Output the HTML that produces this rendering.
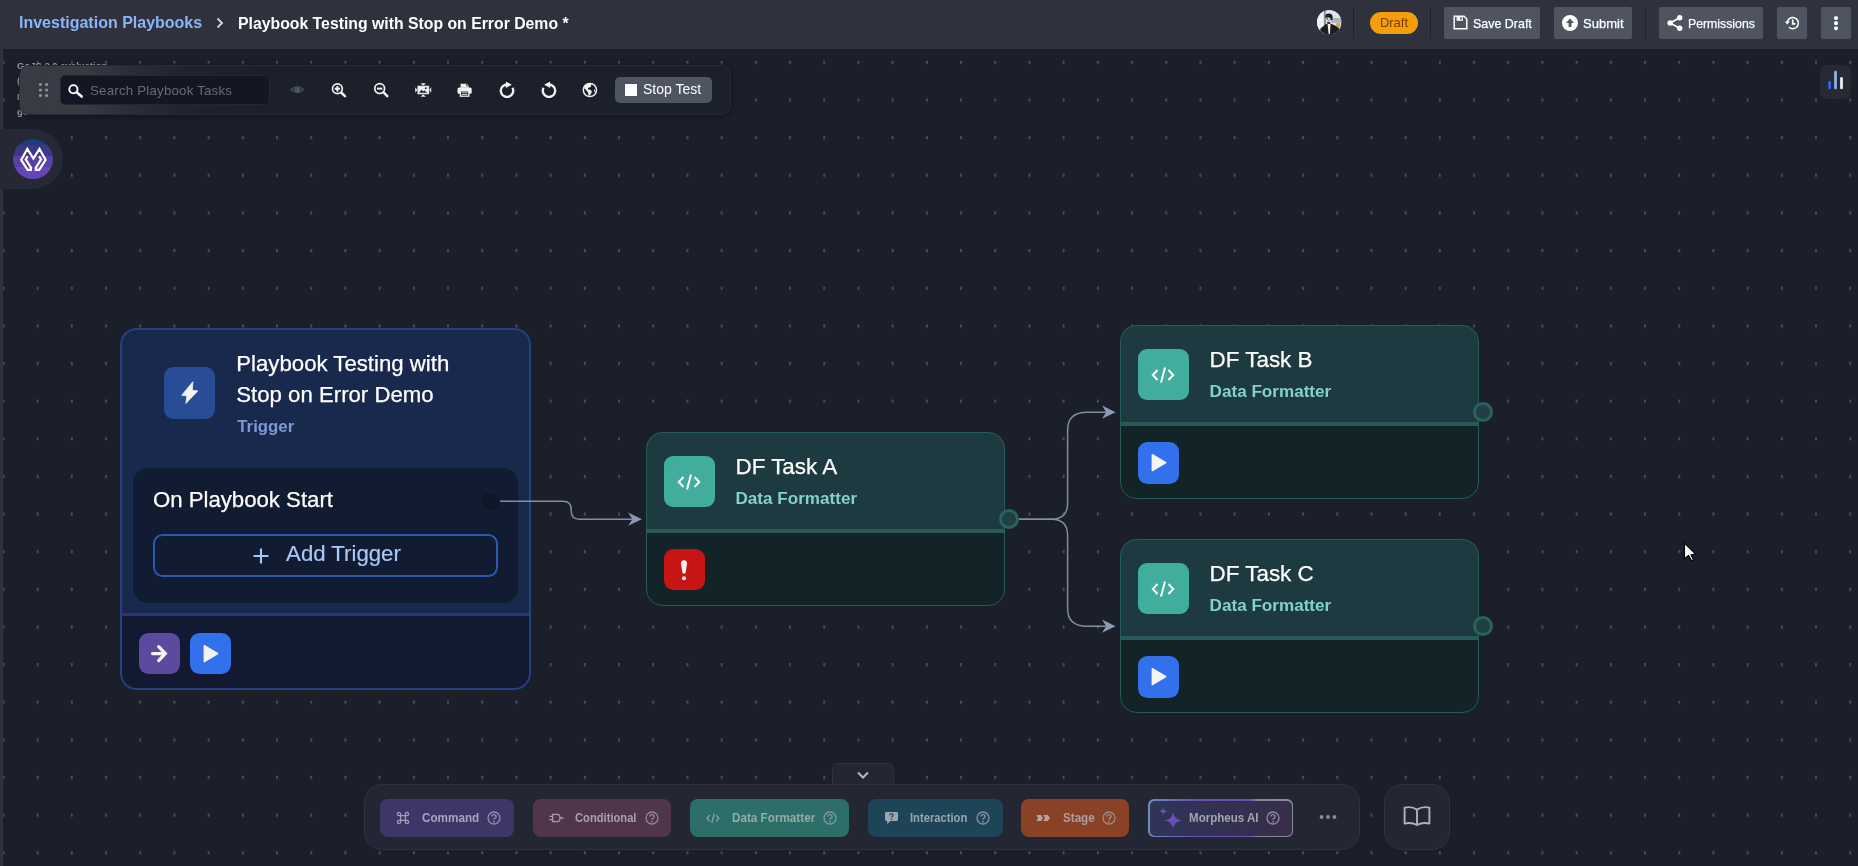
<!DOCTYPE html>
<html><head><meta charset="utf-8">
<style>
*{box-sizing:border-box;margin:0;padding:0}
html,body{width:1858px;height:866px;overflow:hidden;background:#1b1f2a;font-family:"Liberation Sans",sans-serif;color:#fff}
.abs{position:absolute}
#hdr{position:absolute;left:0;top:0;width:1858px;height:49px;background:#2f323d}
#lstrip{position:absolute;left:0;top:0;width:3px;height:866px;background:#2f323d}
#grid{position:absolute;left:0;top:0;width:1858px;height:866px}
.bc1{position:absolute;left:19px;top:14px;font-size:16px;font-weight:bold;color:#8ab4f8;white-space:nowrap}
.bc2{position:absolute;left:238px;top:15px;font-size:15.8px;font-weight:bold;color:#fff;white-space:nowrap}
.hbtn{position:absolute;top:7px;height:32px;background:#4f5560;border-radius:2px;color:#fff;font-size:12.4px;white-space:nowrap}
.hbtn span{position:absolute;top:8.5px;font-size:13.4px;transform-origin:0 50%;-webkit-text-stroke:0.25px #fff}
.vsep{position:absolute;top:7px;width:1px;height:32px;background:#1f222c}
.node{position:absolute;border-radius:16.5px;overflow:hidden}
.node::after{content:"";position:absolute;left:0;top:0;right:0;bottom:0;border-radius:16.5px;border:1.900px solid #295c59}
.trg::after{border-color:#25427f;border-width:2px}
.df{background:#1e3a41;width:359.4px;height:174.300px}
.df .foot{position:absolute;left:0;right:0;top:96.6px;bottom:0;background:#132429;border-top:4px solid #285b58}
.df .ico{position:absolute;left:18.3px;top:23.8px;width:51.3px;height:51.3px;border-radius:9px;background:#41ad9d}
.df .t1{position:absolute;left:90px;top:22px;font-size:22.4px;color:#fff;white-space:nowrap;-webkit-text-stroke:0.25px #fff}
.df .t2{position:absolute;left:90px;top:56.6px;font-size:17.100px;font-weight:bold;color:#84d1c5;white-space:nowrap}
.sq{position:absolute;width:41.1px;height:41.5px;border-radius:9.5px}
.port{position:absolute;width:20.2px;height:20.2px;border-radius:50%;border:3px solid #2a625d;background:#1f3f45}
.pal{position:absolute;top:799px;height:38px;border-radius:8px;font-size:13px;font-weight:bold;white-space:nowrap}
.pal span{position:absolute;top:10.5px;transform-origin:0 50%}
</style></head><body><div id="root" style="position:absolute;left:0;top:0;width:1858px;height:866px;will-change:transform">
<svg id="grid" width="1858" height="866">
<defs><pattern id="dots" x="2.5" y="60.8" width="34.2" height="37.64" patternUnits="userSpaceOnUse"><rect x="0" y="0" width="1.8" height="3.2" fill="#505050"/></pattern></defs>
<rect x="0" y="0" width="1858" height="866" fill="url(#dots)"/>
</svg>
<div id="lstrip"></div>
<div id="hdr"></div>
<div class="bc1">Investigation Playbooks</div>
<div class="bc2">Playbook Testing with Stop on Error Demo *</div>


<div class="abs" style="left:214px;top:16px;width:12px;height:14px"><svg width="12" height="14" viewBox="0 0 12 14"><path d="M3.5 2.5 L8 7 L3.5 11.5" fill="none" stroke="#d6d8dd" stroke-width="1.8"/></svg></div>
<!-- avatar -->
<svg class="abs" style="left:1317px;top:9.800px" width="24.500" height="24.500" viewBox="0 0 24.500 24.500"><defs><clipPath id="avc"><circle cx="12.250" cy="12.250" r="12.250"/></clipPath></defs><g clip-path="url(#avc)"><rect width="24.500" height="24.500" fill="#e2e4e9"/><rect x="0" y="0" width="7" height="24.500" fill="#eff0f2"/><rect x="6.900" y="0" width="1.900" height="17" fill="#8c9199"/><rect x="7.600" y="4" width="0.900" height="11" fill="#9a7b66"/><rect x="14.500" y="8" width="10" height="4.800" fill="#aeb4bd"/><rect x="19.200" y="13.200" width="4" height="4.200" fill="#d9a441"/><path d="M2.500 24.500 L3.500 18.500 L8.500 14.600 L10.600 13.500 H13.600 L18 15.400 L22.300 18.600 L22.800 24.500 Z" fill="#1b1d25"/><path d="M10.500 13.500 H13.500 L12.900 24.500 H11.700 Z" fill="#f4f5f7"/><ellipse cx="11.900" cy="6.800" rx="3.500" ry="3.200" fill="#14171c"/><rect x="13.600" y="6" width="1.800" height="4.200" rx="0.800" fill="#14171c"/><ellipse cx="11" cy="9.100" rx="2.500" ry="3.400" fill="#c5cdd8"/><path d="M8.800 6.500 Q11.500 4.800 14 6.600 L13.500 7.800 Q11 6.600 8.800 8 Z" fill="#14171c"/><circle cx="10.400" cy="8.800" r="0.650" fill="#15171c"/><circle cx="12.100" cy="10.600" r="0.700" fill="#c96a3a"/><rect x="10.300" y="12" width="2.800" height="1.800" fill="#23252c"/></g></svg>
<div class="vsep" style="left:1353px"></div>
<div class="abs" style="left:1370px;top:12px;width:48px;height:22px;border-radius:11px;background:#f59e0b;color:#7a3c0c;font-size:13px;text-align:center;line-height:22px">Draft</div>
<div class="vsep" style="left:1430px"></div>
<div class="hbtn" style="left:1444px;width:96px"><svg class="abs" style="left:9px;top:8px" width="15" height="15" viewBox="0 0 15 15"><path d="M1.2 1.2 H11 L13.8 4 V13.8 H1.2 Z" fill="none" stroke="#fff" stroke-width="1.5"/><rect x="3.6" y="1.5" width="6.2" height="4.3" fill="#fff"/><rect x="7.2" y="2.2" width="1.4" height="2.6" fill="#4f5560"/></svg><span style="left:29px;transform:scaleX(.93)">Save Draft</span></div>
<div class="hbtn" style="left:1554px;width:78px"><svg class="abs" style="left:8px;top:8px" width="16" height="16" viewBox="0 0 16 16"><circle cx="8" cy="8" r="8" fill="#fff"/><path d="M8 3.6 L12 8 H9.4 V12 H6.6 V8 H4 Z" fill="#4f5560"/></svg><span style="left:29px;transform:scaleX(.973)">Submit</span></div>
<div class="vsep" style="left:1645px"></div>
<div class="hbtn" style="left:1659px;width:104px"><svg class="abs" style="left:8px;top:8px" width="16" height="16" viewBox="0 0 16 16"><path d="M12.700 2.800 L3.100 8 L12.700 13.200" fill="none" stroke="#fff" stroke-width="1.700"/><circle cx="12.700" cy="2.800" r="2.700" fill="#fff"/><circle cx="3.100" cy="8" r="2.700" fill="#fff"/><circle cx="12.700" cy="13.200" r="2.700" fill="#fff"/></svg><span style="left:29px;transform:scaleX(.917)">Permissions</span></div>
<div class="hbtn" style="left:1777px;width:30px"><svg class="abs" style="left:7px;top:8px" width="16" height="16" viewBox="0 0 16 16"><path d="M3.2 8 A5.6 5.6 0 1 1 5 12.2" fill="none" stroke="#fff" stroke-width="1.5"/><path d="M0.8 6.6 L3.2 9.4 L5.8 6.6 Z" fill="#fff"/><path d="M8.700 4.600 V8.800 H11.400" fill="none" stroke="#fff" stroke-width="1.700"/></svg></div>
<div class="hbtn" style="left:1821px;width:30px"><svg class="abs" style="left:12px;top:7px" width="6" height="18" viewBox="0 0 6 18"><rect x="1.100" y="2.200" width="3.800" height="3.800" rx="1.400" fill="#fff"/><rect x="1.100" y="7.300" width="3.800" height="3.800" rx="1.400" fill="#fff"/><rect x="1.100" y="12.400" width="3.800" height="3.800" rx="1.400" fill="#fff"/></svg></div>


<!-- watermark text -->
<div class="abs" style="left:17px;top:58px;font-size:9.500px;color:#9a9ca3;line-height:15.300px;white-space:nowrap;font-weight:bold">GoJS 2.0 evaluation<br>(c<br>N<br>go</div>
<!-- toolbar -->
<div class="abs" style="left:19px;top:65px;width:712px;height:50px;border-radius:10px;background:linear-gradient(90deg,#383b45 0px,#3a3a42 60px,#2c2f3a 105px,#20232e 165px,#1c202b 240px);border:1px solid #262a36;box-shadow:0 2px 6px rgba(0,0,0,.35)"></div>
<svg class="abs" style="left:38px;top:82px" width="12" height="16" viewBox="0 0 12 16"><g fill="#8d909a"><circle cx="2.4" cy="2.5" r="1.6"/><circle cx="8.6" cy="2.5" r="1.6"/><circle cx="2.4" cy="8" r="1.6"/><circle cx="8.6" cy="8" r="1.6"/><circle cx="2.4" cy="13.5" r="1.6"/><circle cx="8.6" cy="13.5" r="1.6"/></g></svg>
<div class="abs" style="left:60px;top:74.500px;width:210px;height:30.500px;border-radius:5px;background:#131623;border:1px solid #232634"></div>
<svg class="abs" style="left:67px;top:82px" width="18" height="18" viewBox="0 0 18 18"><circle cx="6.400" cy="7.200" r="4.100" fill="none" stroke="#fff" stroke-width="1.900"/><path d="M9.600 10.300 L14.700 14.500" stroke="#fff" stroke-width="2.600" stroke-linecap="round"/></svg>
<div class="abs" style="left:90px;top:83px;font-size:13.3px;color:#676b78;white-space:nowrap;letter-spacing:.2px">Search Playbook Tasks</div>
<!-- eye -->
<svg class="abs" style="left:289.6px;top:85.4px" width="14.4" height="9.4" viewBox="0 0 16 12" preserveAspectRatio="none"><path d="M1 6 Q8 -1.5 15 6 Q8 13.5 1 6 Z" fill="none" stroke="#4b5262" stroke-width="1.5"/><circle cx="8" cy="6" r="3.4" fill="#4b5262"/></svg>
<!-- zoom in -->
<svg class="abs" style="left:330px;top:81px" width="18" height="18" viewBox="0 0 18 18"><circle cx="7.4" cy="7.7" r="4.9" fill="none" stroke="#f2f2f4" stroke-width="1.7"/><path d="M11.2 11.500 L15 15.200" stroke="#f2f2f4" stroke-width="2.5" stroke-linecap="round"/><path d="M4.7 7.7 H10.100 M7.4 5 V10.400" stroke="#f2f2f4" stroke-width="2"/></svg>
<!-- zoom out -->
<svg class="abs" style="left:372px;top:81px" width="18" height="18" viewBox="0 0 18 18"><circle cx="7.7" cy="7.6" r="4.9" fill="none" stroke="#f2f2f4" stroke-width="1.7"/><path d="M11.500 11.400 L15.300 15.100" stroke="#f2f2f4" stroke-width="2.5" stroke-linecap="round"/><path d="M5 7.600 H10.400" stroke="#f2f2f4" stroke-width="2"/></svg>
<!-- fit -->
<svg class="abs" style="left:414px;top:82px" width="19" height="16" viewBox="0 0 19 16"><g fill="#f2f2f4" stroke="#1b1f2a" stroke-width="0.5"><path d="M6.300 1.100 H12.200 L9.250 4.200 Z M6.300 15 H12.200 L9.250 11.900 Z M1 5 V11 L4.200 8 Z M17.400 5 V11 L14.300 8 Z"/><rect x="3.2" y="3.600" width="12.100" height="8.800" rx="0.800"/></g><path d="M5 10.800 L7.600 7.800 L9.200 9.600 L10.400 8.600 L13.400 10.800 Z" fill="#1b1f2a"/><circle cx="11.800" cy="6.200" r="0.900" fill="#1b1f2a"/></svg>
<!-- print -->
<svg class="abs" style="left:457.3px;top:83.2px" width="15.2" height="13.9" viewBox="0 0 18 16"><path d="M4.200 0.600 H11.400 L13.800 2.800 V5.500 H4.200 Z" fill="#f2f2f4"/><path d="M11.200 0.600 V3 H13.800" fill="none" stroke="#1b1f2a" stroke-width="0.800"/><rect x="0.600" y="5" width="16.800" height="7.600" rx="1.800" fill="#f2f2f4"/><rect x="4" y="9.200" width="10" height="6.200" fill="#1b1f2a" stroke="#f2f2f4" stroke-width="1.500"/><path d="M5.500 11.400 H12.500 M5.500 13.400 H12.500" stroke="#f2f2f4" stroke-width="0.900"/></svg>
<!-- redo (cw) -->
<svg class="abs" style="left:498.8px;top:82.2px" width="16" height="16" viewBox="0 0 16 16"><path d="M13.500 5.800 A6.200 6.200 0 1 1 8 2.500" fill="none" stroke="#f2f2f4" stroke-width="2.300"/><path d="M6.800 -0.600 L12.800 2.700 L6.800 5.900 Z" fill="#f2f2f4"/></svg>
<!-- undo (ccw) -->
<svg class="abs" style="left:541px;top:82.2px" width="16" height="16" viewBox="0 0 16 16"><path d="M2.500 5.800 A6.200 6.200 0 1 0 8 2.500" fill="none" stroke="#f2f2f4" stroke-width="2.300"/><path d="M9.200 -0.600 L3.200 2.700 L9.200 5.900 Z" fill="#f2f2f4"/></svg>
<!-- globe -->
<svg class="abs" style="left:582px;top:82px" width="16" height="16" viewBox="0 0 16 16"><circle cx="7.900" cy="8" r="6.600" fill="none" stroke="#f2f2f4" stroke-width="1.500"/><path d="M2 6 Q3 3 6 1.800 L9.600 1.600 Q8.400 3.200 9.200 4.400 Q8 5.600 6.800 5.400 Q5.400 6.400 6 7.600 Q8.600 7.400 9.600 9 Q10.400 10.400 9 11.600 Q8.200 13.200 7 14 Q5.800 12 6 10.200 Q4.200 9.400 4 7.600 Q2.800 7.200 2 6 Z M12.400 7 Q13.400 8 13.200 10 Q12.400 10.400 12 9 Z" fill="#f2f2f4"/></svg>
<!-- stop test -->
<div class="abs" style="left:615px;top:77px;width:97px;height:26px;border-radius:5px;background:#4e5461"></div>
<div class="abs" style="left:625px;top:84px;width:12px;height:12px;background:#fff"></div>
<div class="abs" style="left:643px;top:81px;font-size:14px;color:#fff;white-space:nowrap">Stop Test</div>
<!-- chart button -->
<div class="abs" style="left:1820px;top:65px;width:31px;height:34px;border-radius:7px;background:#262a35"></div>
<svg class="abs" style="left:1820px;top:65px" width="31" height="34" viewBox="0 0 31 34"><g stroke-width="2.700" stroke-linecap="round"><path d="M9.600 17.400 V23" stroke="#3567e0"/><path d="M15.500 7.200 V23" stroke="#8fb4f2"/><path d="M21.500 13.300 V23" stroke="#f2f2f2"/></g></svg>
<!-- morpheus logo -->
<div class="abs" style="left:0;top:129px;width:63px;height:60px;border-radius:0 30px 30px 0;background:#252935"></div>
<svg class="abs" style="left:13px;top:139px" width="41" height="41" viewBox="0 0 41 41"><defs><clipPath id="lc"><circle cx="20" cy="20" r="20"/></clipPath></defs>
<g clip-path="url(#lc)"><rect x="0" y="0" width="41" height="6" fill="#1f3a78"/><rect x="0" y="5.8" width="41" height="11.4" fill="#3b3785"/><rect x="0" y="17" width="41" height="10.6" fill="#5a3fa6"/><rect x="0" y="27.4" width="41" height="14" fill="#6645b6"/></g>
<path d="M14.700 17.200 L12.700 20.400 L17.900 28.600 V30.800 H14.600 L8.160 20.870 L14.340 9.900 L20.400 19.540 L26.470 9.900 L32.640 20.870 L26.180 30.800 H22.900 V28.600 L28.100 20.400 L26.100 17.200" fill="none" stroke="#fff" stroke-width="2.2" stroke-linejoin="miter" stroke-miterlimit="10"/></svg>

<!-- trigger node -->
<div class="node trg" style="left:120.3px;top:327.8px;width:410.5px;height:362px;background:#19294d">
 <div class="abs" style="left:0;right:0;top:285.1px;bottom:0;background:#111a31;border-top:3px solid #213a72"></div>
 <div class="abs" style="left:43.6px;top:39.6px;width:51.3px;height:51.5px;border-radius:9.5px;background:#284d96"></div>
 <svg class="abs" style="left:59.5px;top:52.5px" width="20" height="25" viewBox="0 0 20 25"><path d="M12.900 1.700 L1.700 15.300 L6.900 15.800 L5.800 23.500 L17.800 10.900 L12.300 10.300 Z" fill="#f2f3f5" stroke="#f2f3f5" stroke-width="0.800" stroke-linejoin="round"/></svg>
 <div class="abs" style="left:116px;top:21px;font-size:22.2px;line-height:30.8px;color:#fff;-webkit-text-stroke:0.25px #fff;white-space:nowrap">Playbook Testing with<br>Stop on Error Demo</div>
 <div class="abs" style="left:117px;top:89.4px;font-size:16.8px;font-weight:bold;color:#7d9ad4;white-space:nowrap">Trigger</div>
 <div class="abs" style="left:12.6px;top:140.3px;width:385.4px;height:135px;border-radius:15px;background:#111b32"></div>
 <div class="abs" style="left:32.600px;top:159.300px;font-size:22.2px;color:#fff;-webkit-text-stroke:0.25px #fff;white-space:nowrap">On Playbook Start</div>
 <div class="abs" style="left:361.8px;top:165.2px;width:16.6px;height:16.6px;border-radius:50%;background:#0e1627"></div>
 <div class="abs" style="left:32.9px;top:206.1px;width:344.5px;height:43.2px;border-radius:9.500px;border:2px solid #2d59ad"></div>
 <svg class="abs" style="left:132.2px;top:219.7px" width="18" height="18" viewBox="0 0 18 18"><path d="M9 1.5 V16.500 M1.5 9 H16.500" stroke="#a3c6f8" stroke-width="2.100"/></svg>
 <div class="abs" style="left:165.800px;top:213.300px;font-size:22.2px;color:#a9c8f7;white-space:nowrap;-webkit-text-stroke:0.2px #a9c8f7">Add Trigger</div>
 <div class="sq" style="left:18.4px;top:304.8px;background:#5c4a9f"></div>
 <svg class="abs" style="left:18.4px;top:304.8px" width="41" height="41" viewBox="0 0 41 41"><path d="M13.5 20.6 H25.7 M19.7 13.6 L26.3 20.6 L19.7 27.6" fill="none" stroke="#f4f4f6" stroke-width="3.2" stroke-linecap="round" stroke-linejoin="miter"/></svg>
 <div class="sq" style="left:69.4px;top:304.8px;background:#3371ec"></div>
 <svg class="abs" style="left:69.4px;top:304.8px" width="41" height="41" viewBox="0 0 41 41"><path d="M14.3 12.7 L27.8 20.7 L14.3 28.7 Z" fill="#f4f4f6" stroke="#f4f4f6" stroke-width="1.4" stroke-linejoin="round"/></svg>
</div>
<!-- DF A -->
<div class="node df" style="left:645.5px;top:432px">
 <div class="foot"></div><div class="ico"></div><svg class="abs" style="left:31.9px;top:40.700px" width="24" height="18" viewBox="0 0 24 18"><path d="M6.5 4 L1.8 9 L6.5 14 M17.500 4 L22.2 9 L17.500 14 M14 1.5 L10 16.500" fill="none" stroke="#fff" stroke-width="2"/></svg>
 <div class="t1">DF Task A</div><div class="t2">Data Formatter</div>
 <div class="sq" style="left:18.5px;top:117.1px;height:41px;background:#c71414"></div><svg class="abs" style="left:32.100px;top:125.500px" width="12" height="26" viewBox="0 0 12 26"><path d="M6 2.300 C8.200 2.300 9.200 3.600 9.100 5.500 L7.600 14.600 Q7.400 15.700 6 15.700 Q4.600 15.700 4.400 14.600 L2.900 5.500 C2.800 3.600 3.800 2.300 6 2.300 Z" fill="#f4f0f0"/><circle cx="6" cy="20.200" r="2" fill="#f4f0f0"/></svg>
</div>
<div class="port" style="left:998.9px;top:509.1px"></div>
<!-- DF B -->
<div class="node df" style="left:1119.6px;top:325px">
 <div class="foot"></div><div class="ico"></div><svg class="abs" style="left:31.9px;top:40.700px" width="24" height="18" viewBox="0 0 24 18"><path d="M6.5 4 L1.8 9 L6.5 14 M17.500 4 L22.2 9 L17.500 14 M14 1.5 L10 16.500" fill="none" stroke="#fff" stroke-width="2"/></svg>
 <div class="t1">DF Task B</div><div class="t2">Data Formatter</div>
 <div class="sq" style="left:18.5px;top:117.1px;background:#3371ec"></div><svg class="abs" style="left:18.5px;top:117.1px" width="41" height="41" viewBox="0 0 41 41"><path d="M14.3 12.7 L27.8 20.7 L14.3 28.7 Z" fill="#f4f4f6" stroke="#f4f4f6" stroke-width="1.4" stroke-linejoin="round"/></svg>
</div>
<div class="port" style="left:1473.0px;top:402.09999999999997px"></div>
<!-- DF C -->
<div class="node df" style="left:1119.6px;top:539px">
 <div class="foot"></div><div class="ico"></div><svg class="abs" style="left:31.9px;top:40.700px" width="24" height="18" viewBox="0 0 24 18"><path d="M6.5 4 L1.8 9 L6.5 14 M17.500 4 L22.2 9 L17.500 14 M14 1.5 L10 16.500" fill="none" stroke="#fff" stroke-width="2"/></svg>
 <div class="t1">DF Task C</div><div class="t2">Data Formatter</div>
 <div class="sq" style="left:18.5px;top:117.1px;background:#3371ec"></div><svg class="abs" style="left:18.5px;top:117.1px" width="41" height="41" viewBox="0 0 41 41"><path d="M14.3 12.7 L27.8 20.7 L14.3 28.7 Z" fill="#f4f4f6" stroke="#f4f4f6" stroke-width="1.4" stroke-linejoin="round"/></svg>
</div>
<div class="port" style="left:1473.0px;top:616.1px"></div>
<!-- links -->
<svg class="abs" style="left:0;top:0" width="1858" height="866" viewBox="0 0 1858 866">
<g fill="none" stroke="#858e9e" stroke-width="1.450">
<path d="M500.2 501.3 H563 Q571.2 501.3 571.2 509.5 V511 Q571.2 519.2 579.4 519.2 H632"/>
<path d="M1019 519.2 H1051.5 Q1067.6 519.2 1067.6 503 V430 Q1067.6 412.2 1087 412.2 H1106"/>
<path d="M1019 519.2 H1051.5 Q1067.6 519.2 1067.6 535.4 V608.4 Q1067.6 626.2 1087 626.2 H1106"/>
</g>
<g fill="#8b9bb1"><path d="M641.8 519.2 L628.1999999999999 512.6 L632.4 519.2 L628.1999999999999 525.8000000000001 Z"/><path d="M1115.6 412.2 L1102.0 405.59999999999997 L1106.1999999999998 412.2 L1102.0 418.8 Z"/><path d="M1115.6 626.2 L1102.0 619.6 L1106.1999999999998 626.2 L1102.0 632.8000000000001 Z"/></g>
</svg>
<!-- palette -->
<div class="abs" style="left:832px;top:763px;width:62px;height:24px;border-radius:6px 6px 0 0;background:#232733;border:1px solid #2f3340;border-bottom:none"></div>
<svg class="abs" style="left:856px;top:770px" width="14" height="10" viewBox="0 0 14 10"><path d="M2 2.5 L7 7.5 L12 2.5" fill="none" stroke="#b6b9c3" stroke-width="2"/></svg>
<div class="abs" style="left:364px;top:784px;width:996px;height:66px;border-radius:18px;background:#232733;border:1px solid #2f3340"></div>
<div class="abs" style="left:1384px;top:784px;width:66px;height:66px;border-radius:18px;background:#232733;border:1px solid #2f3340"></div>
<svg class="abs" style="left:1403px;top:805px" width="28" height="22" viewBox="0 0 28 22"><path d="M14 4.6 Q8.5 1 1.6 2.6 V18.6 Q8.5 17 14 20 Q19.500 17 26.4 18.6 V2.6 Q19.500 1 14 4.6 Z M14 4.6 V20" fill="none" stroke="#b0b2b8" stroke-width="1.900" stroke-linejoin="round"/></svg>
<div class="pal" style="left:380px;width:134px;background:#3d3768;color:#a6a4be"><svg class="abs" style="left:16px;top:12px" width="14" height="14" viewBox="0 0 14 14"><path d="M4.6 4.6 H9.4 V9.4 H4.6 Z M4.6 4.6 V3 A1.6 1.6 0 1 0 3 4.6 Z M9.4 4.6 H11 A1.6 1.6 0 1 0 9.4 3 Z M9.4 9.4 V11 A1.6 1.6 0 1 0 11 9.4 Z M4.6 9.4 H3 A1.6 1.6 0 1 0 4.6 11 Z" fill="none" stroke="#a09eb8" stroke-width="1.3"/></svg><span style="left:42px;transform:scaleX(0.9)">Command</span><svg class="abs" style="left:107px;top:12px" width="14" height="14" viewBox="0 0 14 14"><g fill="none" stroke="#908dab" stroke-width="1.3"><circle cx="7" cy="7" r="6"/></g><path d="M4.9 5.6 Q4.9 3.6 7 3.6 Q9.1 3.6 9.1 5.4 Q9.1 6.5 8 7.1 Q7 7.7 7 8.7" fill="none" stroke="#908dab" stroke-width="1.4"/><circle cx="7" cy="10.6" r="0.9" fill="#908dab"/></svg></div>
<div class="pal" style="left:532.5px;width:138px;background:#50364d;color:#ab9fab"><svg class="abs" style="left:16px;top:12px" width="15" height="14" viewBox="0 0 15 14"><path d="M3.6 3.4 H8.2 Q11 3.4 11 7 Q11 10.600 8.2 10.600 H3.6 Z M0.5 5.4 H3.6 M0.5 8.6 H3.6 M11 7 H14.5" fill="none" stroke="#a89aa7" stroke-width="1.3"/></svg><span style="left:42px;transform:scaleX(0.86)">Conditional</span><svg class="abs" style="left:112px;top:12px" width="14" height="14" viewBox="0 0 14 14"><g fill="none" stroke="#958593" stroke-width="1.3"><circle cx="7" cy="7" r="6"/></g><path d="M4.9 5.6 Q4.9 3.6 7 3.6 Q9.1 3.6 9.1 5.4 Q9.1 6.5 8 7.1 Q7 7.7 7 8.7" fill="none" stroke="#958593" stroke-width="1.4"/><circle cx="7" cy="10.6" r="0.9" fill="#958593"/></svg></div>
<div class="pal" style="left:690px;width:159px;background:#2e6e68;color:#90aba8"><svg class="abs" style="left:16px;top:13.500px" width="14" height="10.500" viewBox="0 0 16 12"><path d="M4.4 2.4 L1.2 6 L4.4 9.6 M11.600 2.4 L14.8 6 L11.600 9.6 M9.4 0.8 L6.6 11.2" fill="none" stroke="#88a9a5" stroke-width="1.4"/></svg><span style="left:42px;transform:scaleX(0.9)">Data Formatter</span><svg class="abs" style="left:133px;top:12px" width="14" height="14" viewBox="0 0 14 14"><g fill="none" stroke="#7d9c98" stroke-width="1.3"><circle cx="7" cy="7" r="6"/></g><path d="M4.9 5.6 Q4.9 3.6 7 3.6 Q9.1 3.6 9.1 5.4 Q9.1 6.5 8 7.1 Q7 7.7 7 8.7" fill="none" stroke="#7d9c98" stroke-width="1.4"/><circle cx="7" cy="10.6" r="0.9" fill="#7d9c98"/></svg></div>
<div class="pal" style="left:868px;width:135px;background:#1d4457;color:#98a4ae"><svg class="abs" style="left:16px;top:12px" width="15" height="15" viewBox="0 0 15 15"><path d="M2.4 1 H12.600 Q14 1 14 2.4 V8.6 Q14 10 12.600 10 H6.4 L3.2 13.2 V10 H2.4 Q1 10 1 8.600 V2.4 Q1 1 2.4 1 Z" fill="#9aa6b0"/><path d="M5.8 4.2 Q5.8 2.8 7.5 2.8 Q9.2 2.800 9.2 4.2 Q9.2 5 8.3 5.500 Q7.5 5.900 7.5 6.6" fill="none" stroke="#1d4457" stroke-width="1.2"/><circle cx="7.5" cy="8.2" r="0.8" fill="#1d4457"/></svg><span style="left:42px;transform:scaleX(0.862)">Interaction</span><svg class="abs" style="left:108px;top:12px" width="14" height="14" viewBox="0 0 14 14"><g fill="none" stroke="#84929e" stroke-width="1.3"><circle cx="7" cy="7" r="6"/></g><path d="M4.9 5.6 Q4.9 3.6 7 3.6 Q9.1 3.6 9.1 5.4 Q9.1 6.5 8 7.1 Q7 7.7 7 8.7" fill="none" stroke="#84929e" stroke-width="1.4"/><circle cx="7" cy="10.6" r="0.9" fill="#84929e"/></svg></div>
<div class="pal" style="left:1021px;width:108px;background:#8a4226;color:#ad9d9c"><svg class="abs" style="left:15px;top:14px" width="15" height="10" viewBox="0 0 15 10"><path d="M0.5 2 H5 L7 5 L5 8 H0.5 L2 5 Z M7.2 2 H11.800 L14 5 L11.800 8 H7.2 L9 5 Z" fill="#b8a29c"/></svg><span style="left:42px;transform:scaleX(0.895)">Stage</span><svg class="abs" style="left:81px;top:12px" width="14" height="14" viewBox="0 0 14 14"><g fill="none" stroke="#9c8a89" stroke-width="1.3"><circle cx="7" cy="7" r="6"/></g><path d="M4.9 5.6 Q4.9 3.6 7 3.6 Q9.1 3.6 9.1 5.4 Q9.1 6.5 8 7.1 Q7 7.7 7 8.7" fill="none" stroke="#9c8a89" stroke-width="1.4"/><circle cx="7" cy="10.6" r="0.9" fill="#9c8a89"/></svg></div>
<div class="abs" style="left:1148px;top:799px;width:145px;height:38px;border-radius:6px;background:linear-gradient(90deg,#6d8dbd 0%,#6a4fb5 32%,#6a4fb5 70%,#88849a 76%,#8e8aa0 100%)"></div>
<div class="pal" style="left:1149.500px;top:800.500px;height:35px;width:142px;border-radius:5px;background:linear-gradient(90deg,#2f3459,#372e49);color:#a5a3b0"><svg class="abs" style="left:9px;top:5px" width="26" height="26" viewBox="0 0 26 26"><path d="M14.100 6 Q15.100 13.500 22.600 14.500 Q15.100 15.500 14.100 23 Q13.100 15.500 5.600 14.500 Q13.100 13.500 14.100 6 Z" fill="#6b50b3"/><path d="M4.300 1.300 Q4.700 4.900 8.300 5.300 Q4.700 5.700 4.300 9.300 Q3.900 5.700 0.300 5.300 Q3.900 4.900 4.300 1.300 Z" fill="#6b50b3"/></svg><span style="left:39px;top:9px;transform:scaleX(.889)">Morpheus AI</span><svg class="abs" style="left:116px;top:10.500px" width="14" height="14" viewBox="0 0 14 14"><g fill="none" stroke="#8e8c9a" stroke-width="1.3"><circle cx="7" cy="7" r="6"/></g><path d="M4.9 5.6 Q4.9 3.6 7 3.6 Q9.1 3.6 9.1 5.4 Q9.1 6.5 8 7.1 Q7 7.7 7 8.7" fill="none" stroke="#8e8c9a" stroke-width="1.4"/><circle cx="7" cy="10.6" r="0.9" fill="#8e8c9a"/></svg></div>
<svg class="abs" style="left:1319px;top:814px" width="18" height="6" viewBox="0 0 18 6"><circle cx="2.6" cy="3" r="1.9" fill="#8b8e98"/><circle cx="9" cy="3" r="1.9" fill="#8b8e98"/><circle cx="15.400" cy="3" r="1.9" fill="#8b8e98"/></svg>

<div id="canvas"></div>
<!-- cursor -->
<svg class="abs" style="left:1683px;top:542px" width="16" height="22" viewBox="0 0 16 22"><path d="M1.500 1.300 V16.700 L5.500 13.300 L8.700 18.800 L10.600 17.900 L7.900 12.700 L12.600 12 Z" fill="#fff" stroke="#05060a" stroke-width="1.100" stroke-linejoin="round"/></svg>
</div></body></html>
